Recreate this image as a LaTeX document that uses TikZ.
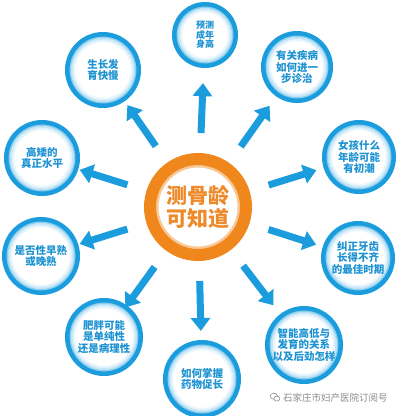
\documentclass[tikz,border=0pt]{standalone}
\usepackage{fontspec}
\newfontfamily\cjk{Noto Sans CJK SC}
\usetikzlibrary{arrows.meta,calc}
\definecolor{bl}{HTML}{1B9DDD}
\definecolor{bltxt}{HTML}{1E93D2}
\definecolor{org}{HTML}{F0871C}
\definecolor{orgl}{HTML}{F8C896}
\definecolor{orgtxt}{HTML}{EE8A2A}
\definecolor{wm}{HTML}{8C8C8C}
\tikzset{
  sattext/.style={align=center, text=bltxt, font=\cjk\bfseries\fontsize{10.5}{11.8}\selectfont, inner sep=0pt},
  smalltext/.style={sattext, font=\cjk\bfseries\fontsize{9}{9.4}\selectfont},
  centertext/.style={align=center, text=orgtxt, font=\cjk\bfseries\fontsize{21}{23}\selectfont, inner sep=0pt},
  arr/.style={bl, line width=7pt, -{Triangle[width=19pt,length=13pt]}},
  ring/.style={bl, line width=4.5pt},
}
\newcommand\satc[6]{% name x y r style text
  \fill[white] (#2,#3) circle [radius=#4pt];
  \draw[bl!10, line width=2pt] (#2,#3) circle [radius={#4pt-9pt}];
  \draw[bl!25, line width=2pt] (#2,#3) circle [radius={#4pt-7pt}];
  \draw[bl!50, line width=2pt] (#2,#3) circle [radius={#4pt-5pt}];
  \draw[ring] (#2,#3) circle [radius={#4pt-2.25pt}];
  \node[#5] (#1) at (#2,#3) {#6};
}
\begin{document}
\begin{tikzpicture}[x=1pt,y=-1pt]
\fill[white] (0,0) rectangle (400,416);
\useasboundingbox (0,0) rectangle (400,416);

% centre
\fill[white] (198,207) circle [radius=54pt];
\draw[orgl, line width=3pt] (198,207) circle [radius=41pt];
\draw[org, line width=12pt] (198,207) circle [radius=48pt];
\node[centertext] (c) at (198,207) {测骨龄\\可知道};

% satellites
\satc{s1}{205}{35}{33}{smalltext}{预测\\成年\\身高}
\satc{s2}{297}{67}{36}{sattext}{有关疾病\\如何进一\\步诊治}
\satc{s3}{359}{157}{37}{sattext}{女孩什么\\年龄可能\\有初潮}
\satc{s4}{358}{258}{37}{sattext}{纠正牙齿\\长得不齐\\的最佳时期}
\satc{s5}{304}{345}{39}{sattext}{智能高低与\\发育的关系\\以及后劲怎样}
\satc{s6}{202}{379}{39}{sattext}{如何掌握\\药物促长}
\satc{s7}{104}{337}{39}{sattext}{肥胖可能\\是单纯性\\还是病理性}
\satc{s8}{41}{256}{39}{sattext}{是否性早熟\\或晚熟}
\satc{s9}{42}{158}{38}{sattext}{高矮的\\真正水平}
\satc{s10}{103}{70}{38}{sattext}{生长发\\育快慢}

% arrows
\foreach \s in {s1,s2,s3,s4,s5,s6,s7,s8,s9,s10}
  \draw[arr] ($(c)!74pt!(\s)$) -- ($(c)!124pt!(\s)$);

% watermark
\node[font=\cjk\fontsize{9.5}{10}\selectfont, text=wm, anchor=west, inner sep=0pt] (wmk) at (283,398) {石家庄市妇产医院订阅号};
\coordinate (ic) at (275,397);
\draw[wm, line width=0.6pt] ($(ic)+(-1.2,-0.8)$) ellipse [x radius=3.6pt, y radius=3pt];
\draw[wm, line width=0.6pt, fill=white] ($(ic)+(1.8,1.6)$) ellipse [x radius=3pt, y radius=2.5pt];
\end{tikzpicture}
\end{document}
